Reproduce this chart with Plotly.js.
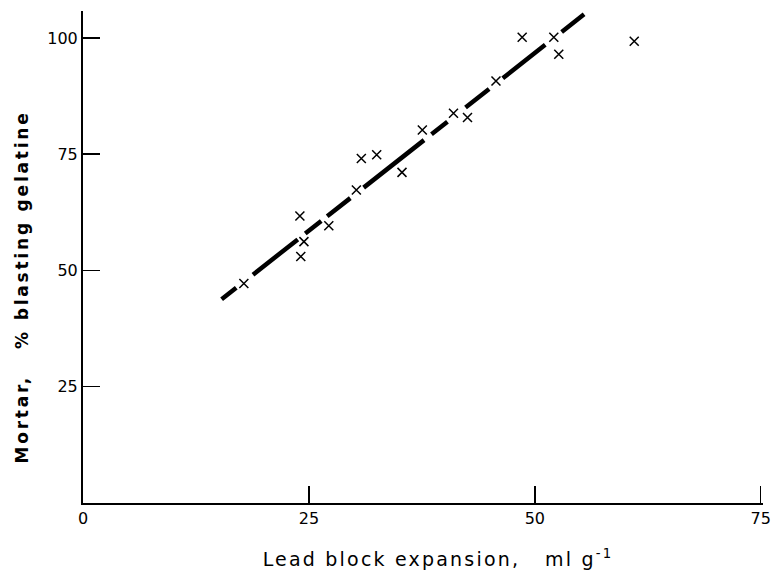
<!DOCTYPE html>
<html>
<head>
<meta charset="utf-8">
<script src="https://cdn.plot.ly/plotly-3.0.1.min.js"></script>
<style>
html,body{margin:0;padding:0;background:#fff;}
#chart{width:771px;height:570px;}
.xtitle{letter-spacing:2.2px; translate:15px 0;}
.ytitle{letter-spacing:2.8px; translate:0 30px;}
</style>
</head>
<body>
<div id="chart"></div>
<script>
// Measured points: lead block expansion (ml/g) vs mortar (% blasting gelatine)
const expansion = [17.8, 24.0, 24.1, 24.45, 27.2, 30.25, 30.8, 32.5, 35.3, 37.55, 41.0, 42.55, 45.7, 48.6, 52.1, 52.65, 61.0];
const mortar    = [47.2, 61.7, 53.0, 56.2, 59.6, 67.3, 74.1, 74.9, 71.1, 80.2, 83.8, 82.9, 90.75, 100.15, 100.15, 96.5, 99.3];
// Fitted line end points
const fitX = [15.34, 55.45];
const fitY = [43.8, 105.1];
// Tick labels
const xTicks = [0, 25, 50, 75];
const yTicks = [25, 50, 75, 100];

const font = "DejaVu Sans, sans-serif";

const traces = [
  {
    x: fitX, y: fitY, mode: 'lines', type: 'scatter', hoverinfo: 'skip',
    line: {color: '#000', width: 4.5, dash: '18.6px,21.3px,57px,9.5px,20.3px,7.6px,29.4px,17px,76.8px,9.5px,20.3px,23px,30px,17.4px,54px,20.9px,28.9px,30px'},
    showlegend: false
  },
  {
    x: expansion, y: mortar, mode: 'markers', type: 'scatter',
    marker: {symbol: 'x-thin-open', size: 9, color: '#000', line: {color: '#000', width: 1.5}},
    showlegend: false
  }
];

const layout = {
  width: 771, height: 570,
  margin: {l: 83, r: 8, t: 11, b: 67},
  paper_bgcolor: '#fff', plot_bgcolor: '#fff',
  font: {family: font, color: '#000', size: 16},
  xaxis: {
    range: [0, 75.25], tickvals: xTicks, ticktext: xTicks.map(String),
    ticks: 'inside', ticklen: 17, tickwidth: 1.5, tickcolor: '#000',
    ticklabeloverflow: 'allow',
    showline: true, linewidth: 2, linecolor: '#000', mirror: false,
    showgrid: false, zeroline: false,
    tickfont: {family: font, size: 16, color: '#000'},
    title: {text: 'Lead block expansion,   ml g<sup>-1</sup>', font: {family: font, size: 19, color: '#000'}, standoff: 25}
  },
  yaxis: {
    range: [0, 105.8], tickvals: yTicks, ticktext: yTicks.map(String),
    ticks: 'inside', ticklen: 17, tickwidth: 1.5, tickcolor: '#000',
    showline: true, linewidth: 2, linecolor: '#000', mirror: false,
    showgrid: false, zeroline: false,
    tickfont: {family: font, size: 16, color: '#000'},
    title: {text: '<b>Mortar,   % blasting gelatine</b>', font: {family: font, size: 17, color: '#000'}, standoff: 14}
  }
};

Plotly.newPlot('chart', traces, layout, {displayModeBar: false, staticPlot: true});
</script>
</body>
</html>
